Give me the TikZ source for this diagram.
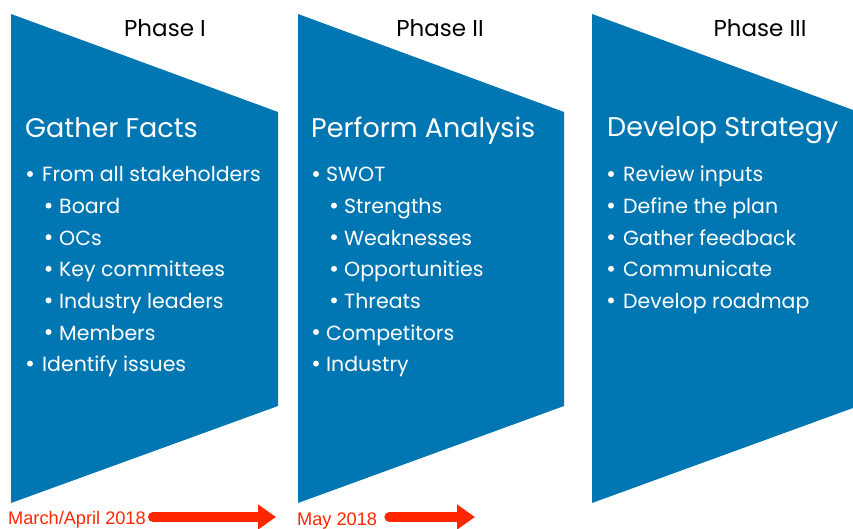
\documentclass[tikz,border=0pt]{standalone}
\usepackage{fontspec}
\setmainfont{Poppins}
\newfontfamily\datefont{Liberation Sans}
\usetikzlibrary{arrows.meta}
\definecolor{phaseblue}{RGB}{0,119,178}
\definecolor{datered}{RGB}{255,38,0}
\begin{document}
\begin{tikzpicture}[x=1pt,y=-1pt,
  panel/.style={fill=phaseblue},
  heading/.style={anchor=base, font=\fontsize{23}{28}\selectfont, text=black, inner sep=0},
  ptitle/.style={anchor=base west, font=\fontsize{27}{32}\selectfont, text=white, inner sep=0},
  item/.style={anchor=base west, font=\fontsize{20.5}{25}\selectfont, text=white, inner sep=0},
  bul/.style={fill=white},
  datelbl/.style={anchor=base west, font=\datefont\fontsize{18.2}{22}\selectfont, text=datered, inner sep=0},
  timearrow/.style={draw=datered, line width=10pt, line cap=round, -{Triangle[length=18pt,width=24pt]}}]
\useasboundingbox (0,0) rectangle (853,529);
% panels
\fill[panel] (11,14) -- (278,112) -- (278,406) -- (11,503) -- cycle;
\fill[panel] (298,14) -- (564,112) -- (564,406) -- (298,503) -- cycle;
\fill[panel] (592,14) -- (853,110) -- (853,408) -- (592,503) -- cycle;
% headings
\node[heading] (h1) at (165,37) {Phase I};
\node[heading] (h2) at (440,37) {Phase II};
\node[heading] (h3) at (760,37) {Phase III};
% titles
\node[ptitle] (t1) at (25,138) {Gather Facts};
\node[ptitle] (t2) at (311,138) {Perform Analysis};
\node[ptitle] (t3) at (607,137) {Develop Strategy};
% panel 1 items
\foreach \txt/\lvl [count=\k from 0] in {From all stakeholders/1, Board/2, OCs/2, Key committees/2, Industry leaders/2, Members/2, Identify issues/1}{
  \pgfmathsetmacro{\yy}{182+31.6*\k}
  \ifnum\lvl=1
    \fill[bul] (30,\yy-8) circle (3);
    \node[item] (a\k) at (42,\yy) {\txt};
  \else
    \fill[bul] (48.5,\yy-8) circle (3);
    \node[item] (a\k) at (59,\yy) {\txt};
  \fi
}
% panel 2 items
\foreach \txt/\lvl [count=\k from 0] in {SWOT/1, Strengths/2, Weaknesses/2, Opportunities/2, Threats/2, Competitors/1, Industry/1}{
  \pgfmathsetmacro{\yy}{182+31.6*\k}
  \ifnum\lvl=1
    \fill[bul] (316,\yy-8) circle (3);
    \node[item] (b\k) at (326,\yy) {\txt};
  \else
    \fill[bul] (334,\yy-8) circle (3);
    \node[item] (b\k) at (344,\yy) {\txt};
  \fi
}
% panel 3 items
\foreach \txt [count=\k from 0] in {Review inputs, Define the plan, Gather feedback, Communicate, Develop roadmap}{
  \pgfmathsetmacro{\yy}{182+31.6*\k}
  \fill[bul] (611,\yy-8) circle (3);
  \node[item] (c\k) at (623,\yy) {\txt};
}
% dates
\node[datelbl] (d1) at (8,524) {March/April 2018};
\node[datelbl] (d2) at (297,525) {May 2018};
\coordinate (e1) at (276,517);
\coordinate (e2) at (475,517);
\draw[timearrow] ([xshift=7pt]d1.east |- 0,517) -- (e1);
\draw[timearrow] ([xshift=12pt]d2.east |- 0,517) -- (e2);
\end{tikzpicture}
\end{document}
